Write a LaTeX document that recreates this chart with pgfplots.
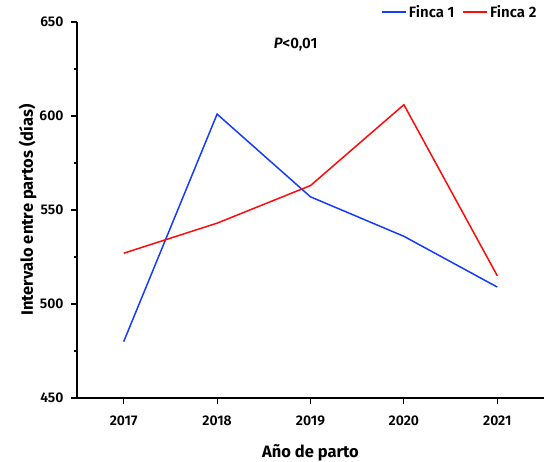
\documentclass[border=0pt]{standalone}
\usepackage{pgfplots}
\pgfplotsset{compat=1.18}
\usepackage{fontspec}
\setmainfont{Fira Sans}
\newfontfamily\semib{Fira Sans SemiBold}
\definecolor{fblue}{RGB}{20,60,255}
\definecolor{fred}{RGB}{255,10,10}

\begin{document}
\begin{tikzpicture}
\begin{axis}[
    scale only axis,
    width=467pt, height=376pt,
    xmin=2016.5, xmax=2021.5,
    ymin=450, ymax=650,
    axis lines=left,
    axis line style={-, line width=1.1pt},
    xtick={2017,2018,2019,2020,2021},
    ytick={450,500,...,650},
    minor y tick num=1,
    tick align=outside,
    major tick length=6pt,
    minor tick length=3pt,
    tick style={line width=1.1pt, black},
    x tick label style={/pgf/number format/1000 sep={}, yshift=-8pt},
    y tick label style={xshift=-4pt},
    /pgf/number format/assume math mode=true,
    ticklabel style={font=\fontsize{14}{16}\semib, text=black},
    xlabel={Año de parto},
    ylabel={Intervalo entre partos (días)},
    label style={font=\fontsize{16.5}{19}\selectfont\bfseries},
    xlabel style={yshift=-12pt},
    ylabel style={yshift=-4pt},
    legend style={draw=none, fill=none, at={(rel axis cs:0.995,1.055)}, anchor=north east,
        legend columns=2, font=\fontsize{15}{17}\semib,
        /tikz/every even column/.append style={column sep=6pt}},
    legend cell align=left,
    legend image code/.code={\draw[line width=1.6pt] (0pt,0pt) -- (24pt,0pt);},
    clip=false,
]
\addplot[fblue, line width=1.5pt] coordinates {
    (2017,480) (2018,601) (2019,557) (2020,536) (2021,509)};
\addlegendentry{Finca 1}
\addplot[fred, line width=1.5pt] coordinates {
    (2017,527) (2018,543) (2019,563) (2020,606) (2021,515)};
\addlegendentry{Finca 2}
\node[font=\fontsize{15}{17}\semib] at (axis cs:2018.84,637.8) {{\itshape P}<0,01};
\coordinate (O) at (rel axis cs:0,0);
\end{axis}
\pgfresetboundingbox
\path ([shift={(-77pt,-64pt)}]O) rectangle ([shift={(470pt,398pt)}]O);
\end{tikzpicture}
\end{document}
